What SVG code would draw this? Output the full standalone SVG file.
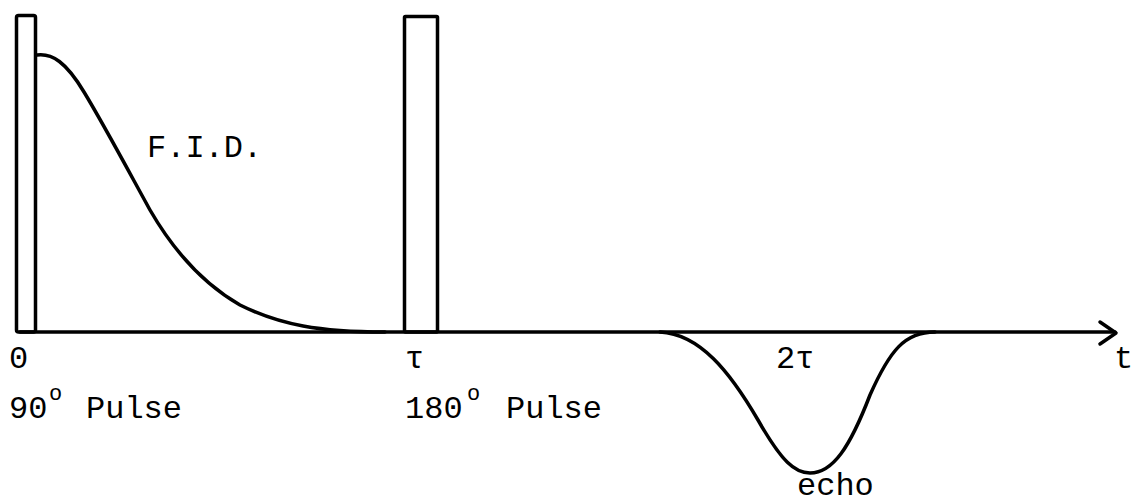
<svg xmlns="http://www.w3.org/2000/svg" width="1132" height="503" viewBox="0 0 1132 503">
<style>
.ln{fill:none;stroke:#000;stroke-width:3.5;stroke-linecap:round;stroke-linejoin:round}
.tx{font-family:"Liberation Mono","DejaVu Sans Mono",monospace;font-size:32px;fill:#000}
.sup{font-family:"Liberation Mono","DejaVu Sans Mono",monospace;font-size:22px;fill:#000}
</style>
<rect width="1132" height="503" fill="#fff"/>
<g id="connectors">
<path class="ln" d="M20,332 H1115"/>
<path class="ln" d="M1100,322 L1116,333 L1100,344"/>
</g>
<g id="pulse90">
<rect class="ln" x="16.5" y="15.5" width="19" height="316.5" rx="2"/>
</g>
<g id="pulse180">
<rect class="ln" x="404.5" y="16.5" width="33" height="315.5" rx="1"/>
</g>
<g id="fid">
<path class="ln" d="M37,55 C52,53 66,62 84,92 C104,125 128,170 150,210 C172,248 200,282 240,305 C280,325 320,332 385,332"/>
<text class="tx" x="147" y="157">F.I.D.</text>
</g>
<g id="echo">
<path class="ln" d="M660,332 C700,334 730,372 758,420 C782,462 795,473 810,473 C833,473 850,447 870,395 C890,350 905,332 935,332"/>
<text class="tx" x="797" y="495">echo</text>
</g>
<g id="labels">
<text class="tx" x="9" y="368">0</text>
<text class="tx" x="9" y="418">90</text>
<text class="sup" x="49" y="400">o</text>
<text class="tx" x="86" y="418">Pulse</text>
<text class="tx" x="405" y="368">τ</text>
<text class="tx" x="405" y="418">180</text>
<text class="sup" x="467" y="400">o</text>
<text class="tx" x="506" y="418">Pulse</text>
<text class="tx" x="776" y="368">2τ</text>
<text class="tx" x="1114" y="368">t</text>
</g>
</svg>
